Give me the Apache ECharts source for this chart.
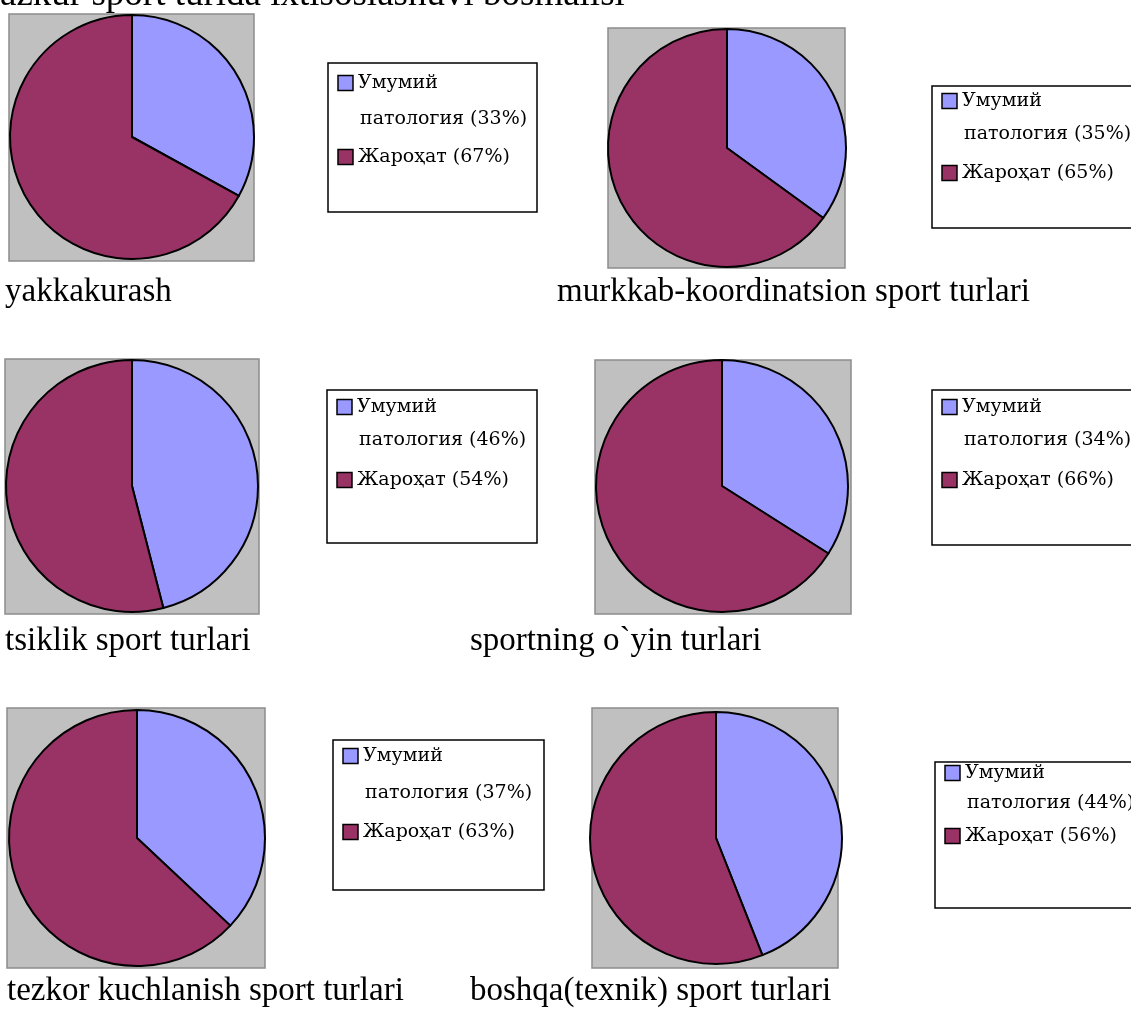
<!DOCTYPE html>
<html>
<head>
<meta charset="utf-8">
<script src="https://cdn.jsdelivr.net/npm/echarts@6/dist/echarts.min.js"></script>
<style>
html,body{margin:0;padding:0;background:#fff;}
#c{width:1131px;height:1014px;}
</style>
</head>
<body>
<div id="c"></div>
<script>
// ---- data ----
const titleText = 'azkur sport turida ixtisoslashuvi bosmalisi';
const categories = [
  'yakkakurash',
  'murkkab-koordinatsion sport turlari',
  'tsiklik sport turlari',
  'sportning o`yin turlari',
  'tezkor kuchlanish sport turlari',
  'boshqa(texnik) sport turlari'
];
const seriesNames = ['Умумий патология', 'Жароҳат'];
const pathologyPct = [33, 35, 46, 34, 37, 44];
const injuryPct = [67, 65, 54, 66, 63, 56];

// ---- layout (positions only) ----
const layout = [
  {cx:132, cy:137, r:122, box:[9,14,245,247],  leg:[328,63,209,149],  rows:[20,56,94],  lab:[5,302]},
  {cx:727, cy:148, r:119, box:[608,28,237,240], leg:[932,86,215,142], rows:[15,48,87],  lab:[557,302]},
  {cx:132, cy:486, r:126, box:[5,359,254,255],  leg:[327,390,210,153],rows:[17,50,90],  lab:[5,651]},
  {cx:722, cy:486, r:126, box:[595,360,256,254],leg:[932,390,215,155],rows:[17,50,90],  lab:[470,651]},
  {cx:137, cy:838, r:128, box:[7,708,258,260],  leg:[333,740,211,150],rows:[16,53,92],  lab:[7,1001]},
  {cx:716, cy:838, r:126, box:[592,708,246,260],leg:[935,762,215,146],rows:[11,41,74],  lab:[470,1001]}
];
const colors = ['#9999FF', '#993366'];
const serif = '"Liberation Serif", "Times New Roman", serif';
const legFont = '"DejaVu Serif", serif';

const series = [];
const graphic = [];

graphic.push({type:'text', x:0, y:7 - 0.305*37, style:{text:titleText, font:'37px ' + serif, fill:'#000', verticalAlign:'middle'}});

categories.forEach((cat, i) => {
  const L = layout[i];
  const vals = [pathologyPct[i], injuryPct[i]];
  const names = seriesNames.map((n, k) => n + ' (' + vals[k] + '%)');
  // plot-area background
  graphic.push({type:'rect', z:0, shape:{x:L.box[0], y:L.box[1], width:L.box[2], height:L.box[3]},
    style:{fill:'#C0C0C0', stroke:'#8c8c8c', lineWidth:1.5}});
  series.push({
    type:'pie', name:cat, center:[L.cx, L.cy], radius:[0, L.r], startAngle:90, clockwise:true,
    silent:true, animation:false, label:{show:false}, labelLine:{show:false},
    emphasis:{disabled:true},
    itemStyle:{borderColor:'#000', borderWidth:2},
    data: names.map((n, k) => ({name:n, value:vals[k], itemStyle:{color:colors[k]}}))
  });
  // legend box
  const lx = L.leg[0], ly = L.leg[1];
  graphic.push({type:'rect', z:1, shape:{x:lx, y:ly, width:L.leg[2], height:L.leg[3]},
    style:{fill:'#fff', stroke:'#000', lineWidth:1.5}});
  const firstWord = seriesNames[0].split(' ')[0];
  const restWords = seriesNames[0].split(' ').slice(1).join(' ') + ' (' + vals[0] + '%)';
  const lines = [
    {marker:0, text:firstWord},
    {marker:-1, text:restWords},
    {marker:1, text:names[1]}
  ];
  lines.forEach((ln, j) => {
    const yc = ly + L.rows[j];
    if (ln.marker >= 0) {
      graphic.push({type:'rect', z:2, shape:{x:lx + 10, y:yc - 7.5, width:15, height:15},
        style:{fill:colors[ln.marker], stroke:'#000', lineWidth:1.5}});
    }
    graphic.push({type:'text', z:2, x:lx + 30 + (ln.marker < 0 ? 2 : 0), y:yc,
      style:{text:ln.text, font:'19px ' + legFont, fill:'#000', verticalAlign:'middle'}});
  });
  // caption
  graphic.push({type:'text', z:2, x:L.lab[0], y:L.lab[1] - 0.305*33,
    style:{text:cat, font:'33px ' + serif, fill:'#000', verticalAlign:'middle'}});
});

const chart = echarts.init(document.getElementById('c'), null, {renderer:'canvas'});
chart.setOption({animation:false, backgroundColor:'#fff', series: series, graphic: graphic});
</script>
</body>
</html>
